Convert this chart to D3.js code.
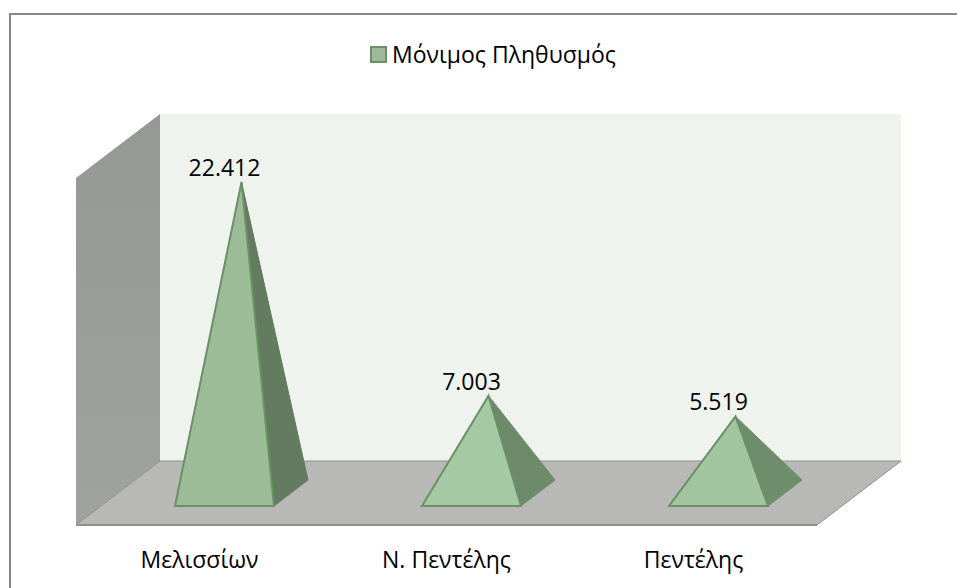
<!DOCTYPE html>
<meta charset="utf-8">
<head>
    <script src="https://cdn.jsdelivr.net/npm/d3@7/dist/d3.min.js"></script>
    <style>
        html, body { margin: 0; padding: 0; background: #fff; }
        svg { display: block; }
        text { font-family: "Open Sans", sans-serif; fill: #000; }
    </style>
</head>
<body>
    <div id="chart"></div>
    <script>
        // data
        let categories = ['Μελισσίων', 'Ν. Πεντέλης', 'Πεντέλης']
        let values = [22412, 7003, 5519]
        let value_labels = ['22.412', '7.003', '5.519']
        let series_name = 'Μόνιμος Πληθυσμός'

        let svg_width = 957
        let svg_height = 588

        // front edge of the floor and how far the 3d box goes back
        let floor_left = 76
        let floor_right = 817
        let floor_front = 525
        let depth_x = 84
        let depth_y = 64
        let wall_top = 114

        let svg = d3.select('#chart')
            .append('svg')
            .attr('width', svg_width)
            .attr('height', svg_height)

        // x gives the middle of each category on the front edge
        let x = d3.scaleBand()
            .domain(categories)
            .range([floor_left, floor_right])

        // y is measured in the middle of the box depth
        let y = d3.scaleLinear()
            .domain([0, 22412])
            .range([floor_front - depth_y / 2, 182])

        let poly = function (pts) {
            return d3.line()(pts) + 'Z'
        }

        // chart frame, only the top and left edges are inside the picture
        svg.append('path')
            .attr('d', 'M10,' + svg_height + 'V14H' + svg_width)
            .attr('fill', 'none')
            .attr('stroke', '#868686')
            .attr('stroke-width', 2)

        // back wall
        svg.append('path')
            .attr('d', poly([
                [floor_left + depth_x, wall_top],
                [floor_right + depth_x, wall_top],
                [floor_right + depth_x, floor_front - depth_y],
                [floor_left + depth_x, floor_front - depth_y]
            ]))
            .attr('fill', '#eef3ee')

        // left wall
        let wall_grad = svg.append('defs').append('linearGradient')
            .attr('id', 'wall_grad')
            .attr('x1', 0).attr('y1', 0).attr('x2', 0).attr('y2', 1)
        wall_grad.append('stop').attr('offset', '0%').attr('stop-color', '#969896')
        wall_grad.append('stop').attr('offset', '100%').attr('stop-color', '#a0a2a0')

        svg.append('path')
            .attr('d', poly([
                [floor_left, wall_top + depth_y],
                [floor_left + depth_x, wall_top],
                [floor_left + depth_x, floor_front - depth_y],
                [floor_left, floor_front]
            ]))
            .attr('fill', 'url(#wall_grad)')

        // floor
        svg.append('path')
            .attr('d', poly([
                [floor_left, floor_front],
                [floor_left + depth_x, floor_front - depth_y],
                [floor_right + depth_x, floor_front - depth_y],
                [floor_right, floor_front]
            ]))
            .attr('fill', '#b8b9b7')
            .attr('stroke', '#8e8f8e')
            .attr('stroke-width', 1)

        svg.append('line')
            .attr('x1', floor_left)
            .attr('x2', floor_right)
            .attr('y1', floor_front)
            .attr('y2', floor_front)
            .attr('stroke', '#8e8f8e')
            .attr('stroke-width', 2)

        // pyramids
        let half_base = 49.5
        let base_dx = 17
        let base_dy = 13
        let front_colors = ['#9bbc97', '#a4c9a3', '#a1c59f']
        let side_colors = ['#637b5e', '#6d8b6a', '#6e8d6b']

        categories.forEach(function (c, i) {

            let cx = x(c) + x.bandwidth() / 2 + depth_x / 2
            let cy = y(0)
            let apex = [cx, y(values[i])]
            let front_l = [cx - half_base - base_dx, cy + base_dy]
            let front_r = [cx + half_base - base_dx, cy + base_dy]
            let back_r = [cx + half_base + base_dx, cy - base_dy]

            svg.append('path')
                .attr('d', poly([apex, front_r, back_r]))
                .attr('fill', side_colors[i])
                .attr('stroke', side_colors[i])
                .attr('stroke-width', 1)

            svg.append('path')
                .attr('d', poly([apex, front_l, front_r]))
                .attr('fill', front_colors[i])
                .attr('stroke', '#6c8f68')
                .attr('stroke-width', 2)

            svg.append('text')
                .attr('x', cx - 17)
                .attr('y', y(values[i]) - 6)
                .attr('text-anchor', 'middle')
                .style('font-size', '23px')
                .text(value_labels[i])

            svg.append('text')
                .attr('x', x(c) + x.bandwidth() / 2)
                .attr('y', 568)
                .attr('text-anchor', 'middle')
                .style('font-size', '23px')
                .text(c)
        })

        // legend
        svg.append('rect')
            .attr('x', 371)
            .attr('y', 47)
            .attr('width', 15)
            .attr('height', 15)
            .attr('fill', '#9bbc97')
            .attr('stroke', '#6c8f68')
            .attr('stroke-width', 2)

        svg.append('text')
            .attr('x', 392)
            .attr('y', 63)
            .style('font-size', '23px')
            .text(series_name)
    </script>
</body>
</html>
